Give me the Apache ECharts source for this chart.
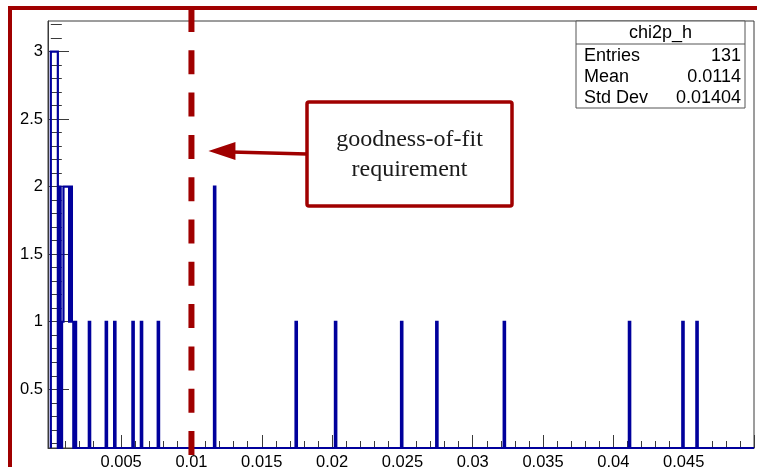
<!DOCTYPE html>
<html>
<head>
<meta charset="utf-8">
<script src="https://cdn.jsdelivr.net/npm/echarts@6/dist/echarts.min.js"></script>
<style>
  html, body { margin: 0; padding: 0; background: #ffffff; }
  #chart { width: 759px; height: 467px; }
</style>
</head>
<body>
<div id="chart"></div>
<script>
// chi2p_h : histogram of chi2 probabilities, fixed bin width
const binWidth = 0.0001;
const histEnd = 0.05;
// low edges of the non-empty bins and their contents
const binLow = [
  0.0000, 0.0001, 0.0002, 0.0003, 0.0004, 0.0006, 0.0008, 0.0009, 0.0010,
  0.0011, 0.0012, 0.0013, 0.0014, 0.0015, 0.0017,
  0.0027, 0.0039, 0.0045, 0.0058, 0.0064, 0.0076, 0.0116, 0.0174, 0.0202,
  0.0249, 0.0274, 0.0322, 0.0411, 0.0449, 0.0459
];
const binCounts = [
  3, 3, 3, 3, 3, 2, 1, 2, 2,
  2, 2, 1, 2, 1, 1,
  1, 1, 1, 1, 1, 1, 2, 1, 1,
  1, 1, 1, 1, 1, 1
];

// axis ranges and tick values
const xRange = [-0.0002, 0.05];
const yRange = [0.065, 3.227];
const xMajorTicks = [0, 0.005, 0.01, 0.015, 0.02, 0.025, 0.03, 0.035, 0.04, 0.045, 0.05];
const xLabels = [0.005, 0.01, 0.015, 0.02, 0.025, 0.03, 0.035, 0.04, 0.045];
const yLabels = [0.5, 1, 1.5, 2, 2.5, 3];

// statistics box
const statsTitle = 'chi2p_h';
const statsNames = ['Entries', 'Mean', 'Std Dev'];
const statsValues = ['131', '0.0114', '0.01404'];

// cut marker
const cutValue = 0.01;
const noteLines = ['goodness-of-fit', 'requirement'];

// ---------------------------------------------------------------
const nBins = Math.round(histEnd / binWidth);
const counts = new Array(nBins).fill(0);
binLow.forEach((lo, k) => { counts[Math.round(lo / binWidth)] = binCounts[k]; });

const xMinor = [];
for (let i = 0; i <= 50; i++) { if (i % 5 !== 0) xMinor.push(+(i * 0.001).toFixed(4)); }
const yMinor = [];
for (let i = 1; i <= 32; i++) { if (i % 5 !== 0) yMinor.push(+(i * 0.1).toFixed(2)); }

const fmt = v => String(parseFloat((+v).toFixed(4)));
const sansFont = '"Liberation Sans", Arial, Helvetica, sans-serif';
const serifFont = '"Liberation Serif", "Times New Roman", serif';
const DARK_RED = '#a00000';
const HIST_BLUE = '#00009c';
const FRAME = '#3a3a3a';

const chart = echarts.init(document.getElementById('chart'), null, { renderer: 'canvas' });

const option = {
  animation: false,
  backgroundColor: '#ffffff',
  grid: {
    left: 48, top: 21, width: 706, height: 427,
    containLabel: false, outerBoundsMode: 'none',
    show: true, borderColor: FRAME, borderWidth: 1, backgroundColor: 'transparent'
  },
  xAxis: [
    {
      type: 'value', min: xRange[0], max: xRange[1], position: 'bottom',
      axisLine: { show: true, onZero: false, lineStyle: { color: FRAME, width: 1 } },
      axisTick: { show: true, inside: true, length: 13, customValues: xMajorTicks,
                  lineStyle: { color: FRAME, width: 1 } },
      axisLabel: { show: true, customValues: xLabels, formatter: fmt, margin: 6,
                   color: '#000', fontSize: 16.5, fontFamily: sansFont },
      splitLine: { show: false }
    },
    {
      type: 'value', min: xRange[0], max: xRange[1], position: 'bottom', gridIndex: 0,
      axisLine: { show: false },
      axisTick: { show: true, inside: true, length: 7, customValues: xMinor,
                  lineStyle: { color: FRAME, width: 1 } },
      axisLabel: { show: false },
      splitLine: { show: false }
    }
  ],
  yAxis: [
    {
      type: 'value', min: yRange[0], max: yRange[1], position: 'left',
      axisLine: { show: true, onZero: false, lineStyle: { color: FRAME, width: 1 } },
      axisTick: { show: true, inside: true, length: 21, customValues: yLabels,
                  lineStyle: { color: FRAME, width: 1 } },
      axisLabel: { show: true, customValues: yLabels, formatter: fmt, margin: 5,
                   color: '#000', fontSize: 16.5, fontFamily: sansFont },
      splitLine: { show: false }
    },
    {
      type: 'value', min: yRange[0], max: yRange[1], position: 'left', gridIndex: 0,
      axisLine: { show: false },
      axisTick: { show: true, inside: true, length: 11, customValues: yMinor,
                  lineStyle: { color: FRAME, width: 1 } },
      axisLabel: { show: false },
      splitLine: { show: false }
    }
  ],
  series: [
    {
      type: 'custom',
      name: statsTitle,
      xAxisIndex: 0, yAxisIndex: 0,
      data: counts.map((c, i) => [i * binWidth, c]),
      silent: true,
      renderItem: function (params, api) {
        if (params.dataIndex !== 0) return null;
        // outline drawn like a frame-clipped step histogram
        const clampY = v => Math.min(Math.max(v, yRange[0]), yRange[1]);
        const pts = [api.coord([0, clampY(0)])];
        for (let i = 0; i < nBins; i++) {
          const x0 = i * binWidth, x1 = (i + 1) * binWidth;
          pts.push(api.coord([x0, clampY(counts[i])]));
          pts.push(api.coord([x1, clampY(counts[i])]));
        }
        pts.push(api.coord([histEnd, clampY(0)]));
        return {
          type: 'polyline',
          shape: { points: pts },
          style: { stroke: HIST_BLUE, lineWidth: 2.2, fill: null, lineJoin: 'miter' }
        };
      }
    }
  ]
};
chart.setOption(option);

// overlay: cut line, annotation, stats box and outer frame
const cutX = chart.convertToPixel({ xAxisIndex: 0 }, cutValue);
const statsX = 576, statsY = 21, statsW = 169, statsH = 87;
const graphics = [
  // outer frame
  { type: 'line', shape: { x1: 10, y1: 8, x2: 757, y2: 8 }, style: { stroke: DARK_RED, lineWidth: 4 }, z: 100 },
  { type: 'line', shape: { x1: 10, y1: 6, x2: 10, y2: 467 }, style: { stroke: DARK_RED, lineWidth: 4 }, z: 100 },
  // cut line
  { type: 'line', shape: { x1: cutX, y1: 8, x2: cutX, y2: 467 },
    style: { stroke: DARK_RED, lineWidth: 6, lineDash: [24, 18.3] }, z: 101 },
  // stats box
  { type: 'rect', shape: { x: statsX, y: statsY, width: statsW, height: statsH },
    style: { fill: '#ffffff', stroke: '#555555', lineWidth: 1 }, z: 110 },
  { type: 'line', shape: { x1: statsX, y1: statsY + 23, x2: statsX + statsW, y2: statsY + 23 },
    style: { stroke: '#555555', lineWidth: 1 }, z: 111 },
  { type: 'text', x: statsX + statsW / 2, y: statsY + 12, z: 112,
    style: { text: statsTitle, fill: '#000', font: '18px ' + sansFont, align: 'center', verticalAlign: 'middle' } }
];
statsNames.forEach((name, k) => {
  const ty = statsY + 35 + k * 21;
  graphics.push({ type: 'text', x: statsX + 8, y: ty, z: 112,
    style: { text: name, fill: '#000', font: '18px ' + sansFont, align: 'left', verticalAlign: 'middle' } });
  graphics.push({ type: 'text', x: statsX + statsW - 4, y: ty, z: 112,
    style: { text: statsValues[k], fill: '#000', font: '18px ' + sansFont, align: 'right', verticalAlign: 'middle' } });
});
// annotation box with arrow pointing to the cut
const boxX = 307, boxY = 102, boxW = 205, boxH = 104;
graphics.push(
  { type: 'rect', shape: { x: boxX, y: boxY, width: boxW, height: boxH, r: 2 },
    style: { fill: '#ffffff', stroke: DARK_RED, lineWidth: 3.5 }, z: 120 },
  { type: 'text', x: boxX + boxW / 2, y: boxY + 38, z: 121,
    style: { text: noteLines[0], fill: '#1a1a1a', font: '24px ' + serifFont, align: 'center', verticalAlign: 'middle' } },
  { type: 'text', x: boxX + boxW / 2, y: boxY + 68, z: 121,
    style: { text: noteLines[1], fill: '#1a1a1a', font: '24px ' + serifFont, align: 'center', verticalAlign: 'middle' } },
  { type: 'line', shape: { x1: boxX, y1: 154, x2: cutX + 40, y2: 152 },
    style: { stroke: DARK_RED, lineWidth: 3.5 }, z: 120 },
  { type: 'polygon', shape: { points: [[cutX + 17, 151], [cutX + 44, 142], [cutX + 44, 160]] },
    style: { fill: DARK_RED }, z: 120 }
);
chart.setOption({ graphic: graphics });
</script>
</body>
</html>
